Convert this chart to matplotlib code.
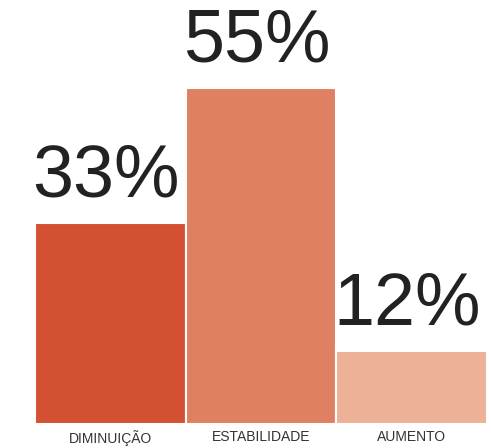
import matplotlib.pyplot as plt

categories = ["DIMINUIÇÃO", "ESTABILIDADE", "AUMENTO"]
values = [33, 55, 12]
colors = ["#D45032", "#E08063", "#EDB197"]

plt.rcParams["font.family"] = ["Liberation Sans", "DejaVu Sans"]

fig = plt.figure(figsize=(4.91, 4.48), dpi=100)
ax = fig.add_axes([35 / 491, 24 / 448, 452 / 491, 424 / 448])

x = range(len(values))
ax.bar(x, values, width=1.0, color=colors, edgecolor="white", linewidth=1.5)

# big percentage labels above each bar
for xi, v in zip(x, values):
    ax.text(xi - 0.03, v + 1.9, f"{v}%", ha="center", va="bottom",
            fontsize=53, color="#222222")

ax.set_xlim(-0.5, 2.5)
ax.set_ylim(0, 69.5)
ax.set_xticks(list(x))
ax.set_xticklabels(categories, fontsize=10, color="#333333")
ax.tick_params(axis="x", length=0, pad=4)
ax.set_yticks([])
for s in ax.spines.values():
    s.set_visible(False)

fig.savefig("out.png", dpi=100)
